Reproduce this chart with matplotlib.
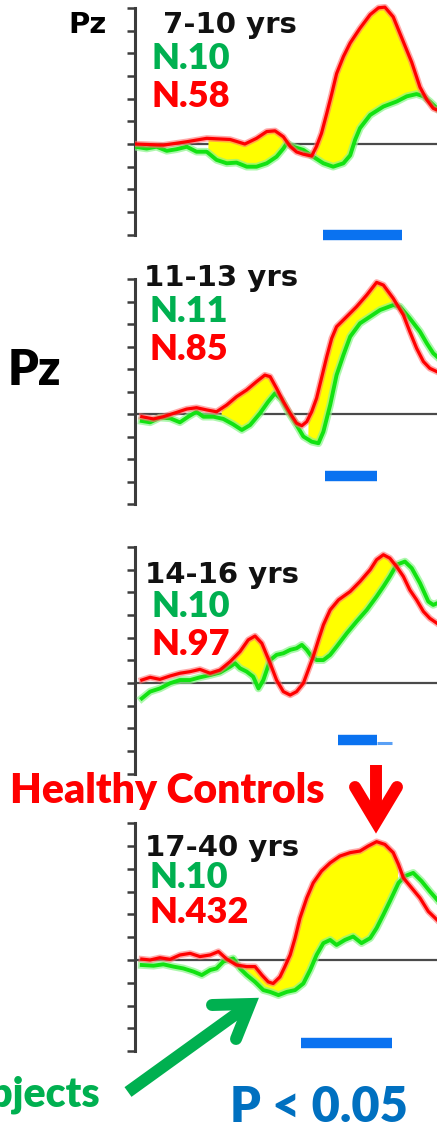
import numpy as np
import matplotlib.pyplot as plt

# Pz averages per age band: time in ms, amplitude in axis tick units
ages = ['7-10 yrs', '11-13 yrs', '14-16 yrs', '17-40 yrs']
n_patients = ['N.10', 'N.11', 'N.10', 'N.10']
n_controls = ['N.58', 'N.85', 'N.97', 'N.432']

t_red_1 = [-100, -25, 37, 90, 152, 191, 222, 249, 271, 293, 311, 328, 346, 368, 381, 394,
           408, 421, 434, 452, 470, 496, 523, 545, 562, 584, 606, 633, 655, 673, 690, 700]
red_1 = [0, -0.05, 0.1, 0.25, 0.2, 0, 0.25, 0.55, 0.58, 0.32, -0.1, -0.35, -0.45, -0.53, -0.1, 0.47,
         1.35, 2.2, 3.1, 3.85, 4.45, 5.1, 5.7, 6.0, 6.03, 5.6, 4.7, 3.6, 2.5, 1.95, 1.57, 1.5]
t_grn_1 = [-100, -69, -43, -16, 10, 37, 63, 90, 116, 143, 169, 196, 222, 249, 275, 293, 302, 319,
           346, 372, 399, 425, 452, 470, 483, 496, 523, 558, 593, 620, 646, 664, 681, 700]
grn_1 = [-0.12, -0.2, -0.12, -0.3, -0.23, -0.12, -0.34, -0.34, -0.7, -0.85, -0.82, -1.0, -1.0, -0.85,
         -0.56, -0.2, 0.03, -0.12, -0.26, -0.56, -0.85, -1.0, -0.85, -0.5, 0.18, 0.7, 1.28, 1.65,
         1.87, 2.1, 2.2, 2.1, 1.87, 1.57]

t_red_2 = [-82, -51, -25, 10, 37, 63, 90, 116, 143, 169, 196, 222, 244, 258, 275, 293, 311, 328,
           342, 355, 368, 381, 394, 408, 421, 434, 461, 487, 514, 540, 558, 584, 611, 628, 646,
           664, 681, 700]
red_2 = [-0.12, -0.22, -0.12, 0.07, 0.22, 0.28, 0.18, 0.1, 0.4, 0.77, 1.07, 1.44, 1.73, 1.66, 1.14,
         0.55, 0.03, -0.41, -0.52, -0.34, 0.1, 0.7, 1.59, 2.55, 3.36, 3.88, 4.33, 4.77, 5.29, 5.85,
         5.73, 5.14, 4.4, 3.66, 2.92, 2.33, 2.03, 1.88]
t_grn_2 = [-82, -60, -34, -7, 19, 41, 63, 81, 108, 134, 160, 183, 205, 231, 253, 271, 289, 306,
           328, 346, 368, 386, 399, 417, 434, 452, 470, 496, 523, 549, 584, 602, 628, 655, 673,
           690, 700]
grn_2 = [-0.31, -0.37, -0.16, -0.19, -0.37, -0.12, 0.1, -0.12, -0.12, -0.22, -0.46, -0.71, -0.49,
         0.03, 0.55, 0.92, 0.62, 0.1, -0.49, -1.0, -1.23, -1.3, -0.79, 0.4, 1.73, 2.62, 3.44, 4.03,
         4.33, 4.62, 4.84, 4.77, 4.25, 3.66, 3.14, 2.7, 2.55]

t_red_3 = [-82, -60, -34, -7, 19, 46, 72, 99, 125, 152, 178, 200, 218, 236, 258, 275, 293, 311,
           328, 346, 359, 372, 386, 399, 417, 439, 470, 496, 523, 540, 558, 575, 593, 611, 628,
           646, 664, 681, 700]
red_3 = [0.13, 0.25, 0.16, 0.31, 0.43, 0.5, 0.6, 0.43, 0.57, 0.94, 1.38, 1.9, 2.07, 1.75, 0.87,
         0.13, -0.38, -0.53, -0.38, -0.01, 0.57, 1.16, 1.9, 2.56, 3.22, 3.66, 4.03, 4.47, 4.99,
         5.43, 5.65, 5.5, 5.13, 4.69, 4.1, 3.66, 3.15, 2.85, 2.63]
t_grn_3 = [-82, -60, -34, -7, 19, 46, 72, 99, 125, 152, 165, 178, 196, 213, 227, 240, 258, 275,
           293, 311, 328, 342, 355, 368, 381, 399, 417, 434, 461, 487, 514, 540, 558, 575, 593,
           615, 633, 655, 677, 690, 700]
grn_3 = [-0.68, -0.38, -0.24, -0.01, 0.13, 0.13, 0.25, 0.35, 0.46, 0.72, 0.87, 0.65, 0.5, 0.28,
         -0.24, 0.13, 1.01, 1.24, 1.31, 1.46, 1.53, 1.68, 1.46, 1.16, 1.01, 1.01, 1.24, 1.6, 2.19,
         2.71, 3.22, 3.81, 4.25, 4.69, 5.21, 5.35, 5.06, 4.4, 3.59, 3.44, 3.51]

t_red_4 = [-82, -60, -34, -7, 19, 46, 72, 99, 121, 143, 169, 196, 218, 236, 253, 266, 284, 297,
           311, 324, 337, 355, 372, 394, 417, 443, 470, 496, 518, 540, 562, 584, 598, 611, 633,
           655, 677, 700]
red_4 = [0.04, 0, 0.1, 0.03, 0.22, 0.29, 0.15, 0.22, 0.37, 0.04, -0.22, -0.29, -0.29, -0.66, -0.96,
         -1.03, -0.74, -0.29, 0.22, 0.96, 1.84, 2.72, 3.38, 3.9, 4.26, 4.56, 4.71, 4.78, 5.0, 5.19,
         5.07, 4.71, 4.19, 3.6, 3.16, 2.72, 2.13, 1.76]
t_grn_4 = [-82, -51, -25, 2, 28, 55, 77, 99, 116, 134, 160, 178, 196, 218, 240, 258, 280, 302,
           324, 346, 364, 381, 399, 417, 434, 456, 478, 500, 523, 540, 558, 575, 598, 615, 637,
           659, 681, 700]
grn_4 = [-0.22, -0.25, -0.19, -0.29, -0.37, -0.51, -0.66, -0.44, -0.37, -0.07, 0.07, -0.37, -0.66,
         -0.96, -1.32, -1.4, -1.54, -1.4, -1.32, -1.03, -0.44, 0.22, 0.74, 0.88, 0.66, 0.88, 1.03,
         0.74, 0.96, 1.4, 1.99, 2.57, 3.38, 3.68, 3.82, 3.46, 3.01, 2.65]

# windows (ms) where controls > patients is shaded
fill_windows = [[(95, 300), (380, 660)],
                [(130, 280), (360, 595)],
                [(165, 260), (365, 595)],
                [(180, 595)]]
# p < 0.05 windows (ms)
sig_windows = [(399, 606), (403, 540), (439, 540), (341, 580)]
sig_tail_3 = (540, 580)

reds = [(t_red_1, red_1), (t_red_2, red_2), (t_red_3, red_3), (t_red_4, red_4)]
grns = [(t_grn_1, grn_1), (t_grn_2, grn_2), (t_grn_3, grn_3), (t_grn_4, grn_4)]

# layout in pixels: zero-line height and size of one tick step
W, H = 437, 1129
zero_px = [144, 414, 683, 960]
unit_px = [22.7, 22.5, 22.7, 22.8]
bar_level = [-4.0, -2.76, -2.5, -3.64]
label_y = [(33, 69, 107), (286, 322, 360), (583, 617, 655), (856, 888, 923)]
label_x = [(163, 152), (144, 150), (145, 152), (145, 150)]

RED, RED_GLOW = '#ff0000', '#ff7070'
GRN, GRN_GLOW = '#12e212', '#8af58a'
OFFICE_GREEN = '#00b050'
AXC = '#3c3c3c'
CAL = dict(family='Lato', fontweight='heavy')

fig = plt.figure(figsize=(W / 100, H / 100), dpi=100)
ylo, yhi = -4.6, 6.6

for i in range(4):
    bottom = zero_px[i] + (-ylo) * unit_px[i]
    ax = fig.add_axes([135 / W, 1 - bottom / H, 302 / W, (yhi - ylo) * unit_px[i] / H])
    ax.patch.set_alpha(0)
    ax.set_xlim(-100, 700)
    ax.set_ylim(ylo, yhi)
    for s in ['top', 'right', 'bottom']:
        ax.spines[s].set_visible(False)
    ax.spines['left'].set_bounds(-4, 6)
    ax.spines['left'].set_color(AXC)
    ax.spines['left'].set_linewidth(2.2)
    ax.set_xticks([])
    ax.set_yticks(np.arange(-4, 7))
    ax.tick_params(axis='y', direction='out', length=5.5, width=1.8, color=AXC, labelleft=False)
    ax.axhline(0, color='#4a4a4a', lw=1.6, zorder=1)

    tr, vr = reds[i]
    tg, vg = grns[i]
    grid = np.arange(-100, 701, 1.0)
    r_on = np.interp(grid, tr, vr)
    g_on = np.interp(grid, tg, vg)
    inside = np.zeros_like(grid, dtype=bool)
    for a, b in fill_windows[i]:
        inside |= (grid >= a) & (grid <= b)
    ax.fill_between(grid, g_on, r_on, where=inside & (r_on > g_on), interpolate=True,
                    color='#ffff00', lw=0, zorder=2)

    ax.plot(tg, vg, color=GRN_GLOW, lw=5.5, alpha=0.7, zorder=3, solid_joinstyle='round')
    ax.plot(tg, vg, color=GRN, lw=2.8, zorder=4, solid_joinstyle='round')
    ax.plot(tr, vr, color=RED_GLOW, lw=4.6, alpha=0.6, zorder=5, solid_joinstyle='round')
    ax.plot(tr, vr, color=RED, lw=2.3, zorder=6, solid_joinstyle='round')

    a, b = sig_windows[i]
    ax.plot([a, b], [bar_level[i]] * 2, color='#0a72f0', lw=7.5, solid_capstyle='butt', zorder=6)
    if i == 2:
        ax.plot(sig_tail_3, [bar_level[i] - 0.15] * 2, color='#5aa0f5', lw=2.2,
                solid_capstyle='butt', zorder=6)

# text and arrows on a pixel-space overlay
ov = fig.add_axes([0, 0, 1, 1], zorder=10)
ov.set_xlim(0, W)
ov.set_ylim(H, 0)
ov.axis('off')
ov.patch.set_alpha(0)

ov.text(68, 33, 'Pz', fontsize=21, fontweight='bold', family='DejaVu Sans', color='black')
ov.text(8, 385, 'Pz', fontsize=35, color='black', **CAL)

for i in range(4):
    y_age, y_p, y_c = label_y[i]
    x_age, x_n = label_x[i]
    ov.text(x_age, y_age, ages[i], fontsize=21, fontweight='bold', family='DejaVu Sans',
            color='#111111')
    ov.text(x_n, y_p, n_patients[i], fontsize=26, color=OFFICE_GREEN, **CAL)
    ov.text(x_n, y_c, n_controls[i], fontsize=26, color=RED, **CAL)

ov.text(10, 803, 'Healthy Controls', fontsize=29.5, color=RED, **CAL)
ov.text(100, 1107, 'Subjects', fontsize=29.5, color=OFFICE_GREEN, ha='right', **CAL)
ov.text(230, 1122, 'P < 0.05', fontsize=35, color='#0070c0', **CAL)

# red arrow pointing at the control peak
ov.plot([376, 376], [765, 822], color=RED, lw=8.6, solid_capstyle='butt')
ov.plot([355, 376, 397], [787, 822, 787], color=RED, lw=8.6,
        solid_capstyle='round', solid_joinstyle='miter')
# green arrow pointing at the patient trough
ov.plot([128, 250], [1092, 1004], color=OFFICE_GREEN, lw=8.6, solid_capstyle='butt')
ov.plot([212, 250, 236], [1005, 1004, 1039], color=OFFICE_GREEN, lw=8.6,
        solid_capstyle='round', solid_joinstyle='miter')

fig.savefig('out.png', dpi=100)
